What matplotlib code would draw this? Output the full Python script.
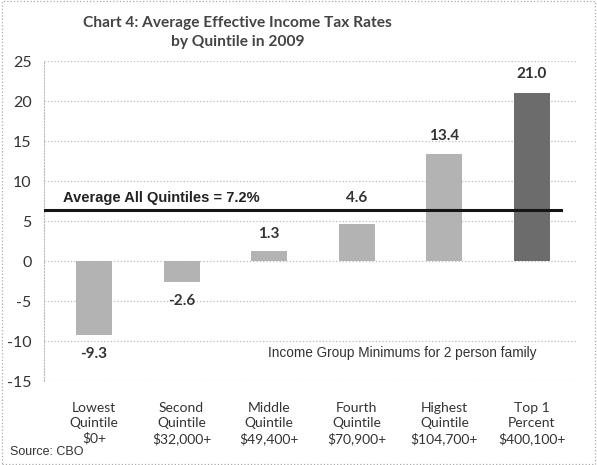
import matplotlib.pyplot as plt
import numpy as np

categories = ["Lowest\nQuintile\n$0+", "Second\nQuintile\n$32,000+", "Middle\nQuintile\n$49,400+",
              "Fourth\nQuintile\n$70,900+", "Highest\nQuintile\n$104,700+", "Top 1\nPercent\n$400,100+"]
values = [-9.3, -2.6, 1.3, 4.6, 13.4, 21.0]
value_labels = ["-9.3", "-2.6", "1.3", "4.6", "13.4", "21.0"]
label_offsets = [2.3, 2.4, 2.1, 3.3, 2.2, 2.4]
average_line = 6.4
average_text = "Average All Quintiles = 7.2%"
yticks = [-15, -10, -5, 0, 5, 10, 15, 20, 25]

plt.rcParams['font.family'] = ['Lato', 'DejaVu Sans']

fig = plt.figure(figsize=(5.97, 4.65), dpi=100)
ax = fig.add_axes([0.0737, 0.1806, 0.8928, 0.6882])

x = np.arange(len(categories))
colors = ['#b3b3b3'] * 5 + ['#6c6c6c']
ax.bar(x, values, width=0.41, color=colors, zorder=3)

ax.axhline(average_line, xmax=0.97, color='#151515', lw=2.2, zorder=4)
ax.text(-0.35, 7.9, average_text, fontsize=10.5, fontweight='bold', family=['Liberation Sans'],
        color='#222222', va='center', ha='left')

for xi, v, lab, off in zip(x, values, value_labels, label_offsets):
    yy = v + off if v >= 0 else v - off
    ax.text(xi, yy, lab, ha='center', va='center', fontsize=11, fontweight='bold', color='#333333')

ax.text(3.52, -11.5, "Income Group Minimums for 2 person family", ha='center', va='center',
        fontsize=9.8, color='#333333', family=['Liberation Sans'])

ax.set_ylim(-15, 25)
ax.set_xlim(-0.571, 5.514)
ax.set_yticks(yticks)
ax.set_yticklabels([str(t) for t in yticks], fontsize=11.5, color='#333333')
ax.set_xticks(x)
ax.set_xticklabels(categories, fontsize=10, color='#333333', linespacing=1.3)
ax.tick_params(axis='both', length=0)
ax.tick_params(axis='x', pad=15)
ax.tick_params(axis='y', pad=9)
ax.grid(axis='y', color='#bbbbbb', linestyle=':', lw=0.9, zorder=0)
for s in ['top', 'right', 'bottom']:
    ax.spines[s].set_visible(False)
ax.spines['left'].set_color('#bbbbbb')
ax.spines['left'].set_linestyle(':')

fig.text(0.398, 0.965, "Chart 4: Average Effective Income Tax Rates\nby Quintile in 2009", ha='center', va='top',
         fontsize=11.2, fontweight='bold', color='#444444', linespacing=1.45)
fig.text(0.017, 0.028, "Source: CBO", fontsize=9, color='#333333', ha='left', va='center',
         family=['Liberation Sans'])

border = plt.Rectangle((0.003, 0.003), 0.994, 0.994, transform=fig.transFigure, fill=False,
                       edgecolor='#aaaaaa', linestyle=':', lw=0.9)
fig.patches.append(border)

fig.savefig('out.png', dpi=100)
